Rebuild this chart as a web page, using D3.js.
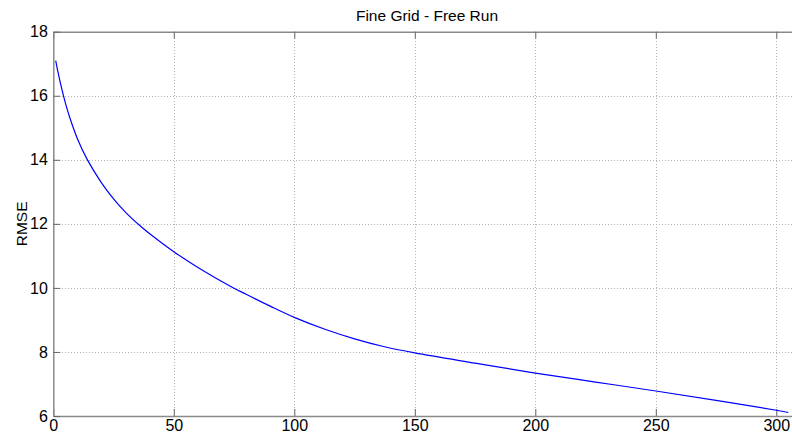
<!DOCTYPE html>
<html>
<head>
<meta charset="utf-8">
<script src="https://cdn.jsdelivr.net/npm/d3@7"></script>
<style>
  html, body { margin: 0; padding: 0; background: #fff; }
  svg { display: block; font-family: "Liberation Sans", Arial, sans-serif; }
</style>
</head>
<body>
<svg id="chart" width="792" height="438"></svg>
<script>
// RMSE of the free run over iterations
const iterations = [1, 2, 3, 5, 7, 10, 14, 20, 25, 30, 36, 40, 50, 60, 74, 80, 90, 100, 113, 125, 137, 150, 175, 200, 225, 250, 275, 300, 305];
const rmse = [17.1, 16.72, 16.38, 15.78, 15.28, 14.66, 14.02, 13.28, 12.78, 12.36, 11.94, 11.69, 11.13, 10.64, 10.03, 9.80, 9.43, 9.08, 8.70, 8.41, 8.17, 7.97, 7.65, 7.34, 7.06, 6.78, 6.49, 6.18, 6.11];
const xTicks = [0, 50, 100, 150, 200, 250, 300];
const yTicks = [6, 8, 10, 12, 14, 16, 18];
const xDomain = [0, 310];
const yDomain = [6, 18];
const titleText = "Fine Grid - Free Run";
const yLabelText = "RMSE";

const svg = d3.select("#chart");
const plotLeft = 53.3, plotTop = 31.7, plotBottom = 416;
const plotRight = plotLeft + (xDomain[1] - xDomain[0]) * 2.41;

const x = d3.scaleLinear().domain(xDomain).range([plotLeft, plotRight]);
const y = d3.scaleLinear().domain(yDomain).range([plotBottom, plotTop]);

// grid
const grid = svg.append("g").attr("stroke", "#b4b4b4").attr("stroke-width", 1)
  .attr("stroke-dasharray", "1,2").attr("shape-rendering", "crispEdges");
grid.selectAll(".gx").data(xTicks.filter(d => d > xDomain[0])).join("line")
  .attr("x1", d => Math.round(x(d)) + 0.5).attr("x2", d => Math.round(x(d)) + 0.5)
  .attr("y1", plotTop).attr("y2", plotBottom);
grid.selectAll(".gy").data(yTicks.filter(d => d > yDomain[0] && d < yDomain[1])).join("line")
  .attr("y1", d => Math.round(y(d)) + 0.5).attr("y2", d => Math.round(y(d)) + 0.5)
  .attr("x1", plotLeft).attr("x2", plotRight);

// axes (inward ticks, MATLAB style)
const axBottom = d3.axisBottom(x).tickValues(xTicks).tickSizeInner(-7).tickSizeOuter(0).tickPadding(5);
const axTop = d3.axisTop(x).tickValues(xTicks).tickSizeInner(-7).tickSizeOuter(0).tickFormat("");
const axLeft = d3.axisLeft(y).tickValues(yTicks).tickSizeInner(-7).tickSizeOuter(0).tickPadding(10);

function style(g) {
  g.select(".domain").attr("stroke", "#8a8a8a").attr("stroke-width", 1.5);
  g.selectAll(".tick line").attr("stroke", "#666");
  g.selectAll(".tick text").attr("fill", "#000").attr("font-size", 16)
    .attr("font-family", "Liberation Sans, Arial, sans-serif");
}
svg.append("g").attr("transform", `translate(0,${plotBottom})`).call(axBottom).call(style)
  .call(g => g.selectAll(".tick text").attr("dy", "0.62em"));
svg.append("g").attr("transform", `translate(0,${plotTop})`).call(axTop).call(style);
svg.append("g").attr("transform", `translate(${plotLeft},0)`).call(axLeft).call(style)
  .call(g => g.selectAll(".tick text").attr("x", -5.5));

// curve
const pts = iterations.map((d, i) => [d, rmse[i]]);
svg.append("path").datum(pts)
  .attr("fill", "none").attr("stroke", "#0000ff").attr("stroke-width", 1.2)
  .attr("d", d3.line().x(d => x(d[0])).y(d => y(d[1])).curve(d3.curveCatmullRom.alpha(0.5)));

// title and label
svg.append("text").attr("x", 427).attr("y", 20.5).attr("text-anchor", "middle")
  .attr("font-size", 15.5).attr("fill", "#000").text(titleText);
svg.append("text").attr("transform", `translate(26.5,${(plotTop + plotBottom) / 2}) rotate(-90)`)
  .attr("text-anchor", "middle").attr("font-size", 15.5).attr("fill", "#000").text(yLabelText);
</script>
</body>
</html>
